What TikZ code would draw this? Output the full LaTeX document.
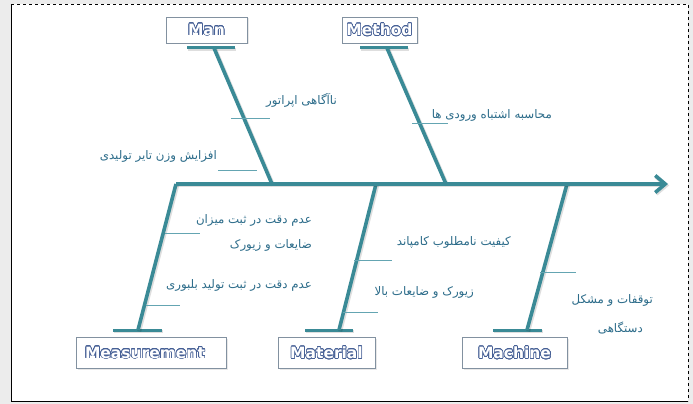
\documentclass[tikz,border=0pt]{standalone}
\usepackage{fontspec}
\usepackage[copies]{contour}
\usetikzlibrary{arrows.meta,shadows}
\TeXXeTstate=1
\newfontfamily\fa[Script=Arabic]{DejaVu Sans}
\newfontfamily\lab{DejaVu Sans Bold}
\definecolor{bonec}{RGB}{58,138,150}
\definecolor{subc}{RGB}{100,165,178}
\definecolor{txtc}{RGB}{44,108,138}
\definecolor{labc}{RGB}{70,96,150}
\definecolor{boxc}{RGB}{130,145,160}
\definecolor{bgc}{RGB}{236,236,236}
\contourlength{0.6pt}
\contournumber{24}
\begin{document}
\begin{tikzpicture}[x=1pt,y=-1pt,
  bone/.style={draw=bonec, line width=3.6pt,
    preaction={draw=black, opacity=0.13, line width=4pt, transform canvas={xshift=1.2pt,yshift=-1.4pt}}},
  barline/.style={draw=bonec, line width=3pt,
    preaction={draw=black, opacity=0.13, line width=3.4pt, transform canvas={xshift=1.2pt,yshift=-1.4pt}}},
  subline/.style={draw=subc, line width=0.9pt},
  catbox/.style={draw=boxc, line width=0.7pt, fill=white, inner sep=0pt,
    drop shadow={opacity=0.18, shadow xshift=1.5pt, shadow yshift=-1.5pt},
    font=\lab\fontsize{15.5}{17}\selectfont},
  fatxt/.style={text=txtc, font=\fa\fontsize{11.8}{13}\selectfont, inner sep=0pt}]
\useasboundingbox (0,0) rectangle (693,404);
\fill[bgc] (0,0) rectangle (693,404);
\fill[white] (11,4) rectangle (688,401);
\draw[dashed, line width=0.8pt] (11,4) -- (688,4) -- (688,401);
\draw[line width=0.8pt] (11,4) -- (11,401) -- (688,401);

% category boxes
\node[catbox, minimum width=81pt, minimum height=26pt] (man) at (206.5,30) {\contour{labc}{\textcolor{white}{Man}}};
\node[catbox, minimum width=75pt, minimum height=26pt] (method) at (379.5,30) {\contour{labc}{\textcolor{white}{Method}}};
\node[catbox, minimum width=150pt, minimum height=31pt, text width=132pt, align=left] (meas) at (151,353) {\contour{labc}{\textcolor{white}{Measurement}}};
\node[catbox, minimum width=97pt, minimum height=31pt] (mat) at (326.5,353) {\contour{labc}{\textcolor{white}{Material}}};
\node[catbox, minimum width=105pt, minimum height=31pt] (mach) at (514.5,353) {\contour{labc}{\textcolor{white}{Machine}}};

% bars
\coordinate (manL) at (187,48);  \coordinate (manR) at (235,48);  \coordinate (manT) at (214,48);
\coordinate (metL) at (360,48);  \coordinate (metR) at (408,48);  \coordinate (metT) at (387,48);
\coordinate (meaL) at (113,330); \coordinate (meaR) at (162,330); \coordinate (meaB) at (138,330);
\coordinate (matL) at (305,330); \coordinate (matR) at (353,330); \coordinate (matB) at (339,330);
\coordinate (macL) at (493,330); \coordinate (macR) at (542,330); \coordinate (macB) at (527,330);
\draw[barline] (manL) -- (manR);
\draw[barline] (metL) -- (metR);
\draw[barline] (meaL) -- (meaR);
\draw[barline] (matL) -- (matR);
\draw[barline] (macL) -- (macR);

% spine points
\coordinate (s0) at (176,184);
\coordinate (s1) at (668,184);
\coordinate (sMan) at (272,184);
\coordinate (sMet) at (446,184);
\coordinate (sMat) at (376,184);
\coordinate (sMac) at (567,184);

% branches
\draw[bone] (manT) -- (sMan);
\draw[bone] (metT) -- (sMet);
\draw[bone] (meaB) -- (s0);
\draw[bone] (matB) -- (sMat);
\draw[bone] (macB) -- (sMac);
\draw[bone, line join=miter, -{Straight Barb[length=10pt,width=17pt]}] (s0) -- (s1);

% sub branches
\coordinate (a1) at (231,118); \coordinate (a2) at (270,118);
\coordinate (b1) at (218,170); \coordinate (b2) at (257,170);
\coordinate (c1) at (412,123); \coordinate (c2) at (448,123);
\coordinate (d1) at (165,233); \coordinate (d2) at (200,233);
\coordinate (e1) at (146,305); \coordinate (e2) at (180,305);
\coordinate (f1) at (354,260); \coordinate (f2) at (392,260);
\coordinate (g1) at (343,312); \coordinate (g2) at (378,312);
\coordinate (h1) at (540,272); \coordinate (h2) at (576,272);
\foreach \p/\q in {a1/a2,b1/b2,c1/c2,d1/d2,e1/e2,f1/f2,g1/g2,h1/h2}
  \draw[subline] (\p) -- (\q);

% labels
\node[fatxt, anchor=east] (t1) at (337,100) {\beginR ناآگاهی اپراتور\endR};
\node[fatxt, anchor=east] (t2) at (552,115) {\beginR محاسبه اشتباه ورودی ها\endR};
\node[fatxt, anchor=east] (t3) at (217,156) {\beginR افزایش وزن تایر تولیدی\endR};
\node[fatxt, anchor=east] (t4) at (312,220) {\beginR عدم دقت در ثبت میزان\endR};
\node[fatxt, anchor=east] (t5) at (312,245) {\beginR ضایعات و زیورک\endR};
\node[fatxt, anchor=east] (t6) at (312,285) {\beginR عدم دقت در ثبت تولید بلبوری\endR};
\node[fatxt, anchor=east] (t7) at (511,242) {\beginR کیفیت نامطلوب کامپاند\endR};
\node[fatxt, anchor=east] (t8) at (474,292) {\beginR زیورک و ضایعات بالا\endR};
\node[fatxt, anchor=east] (t9) at (653,300) {\beginR توقفات و مشکل\endR};
\node[fatxt, anchor=east] (t10) at (643,328) {\beginR دستگاهی\endR};
\end{tikzpicture}
\end{document}
